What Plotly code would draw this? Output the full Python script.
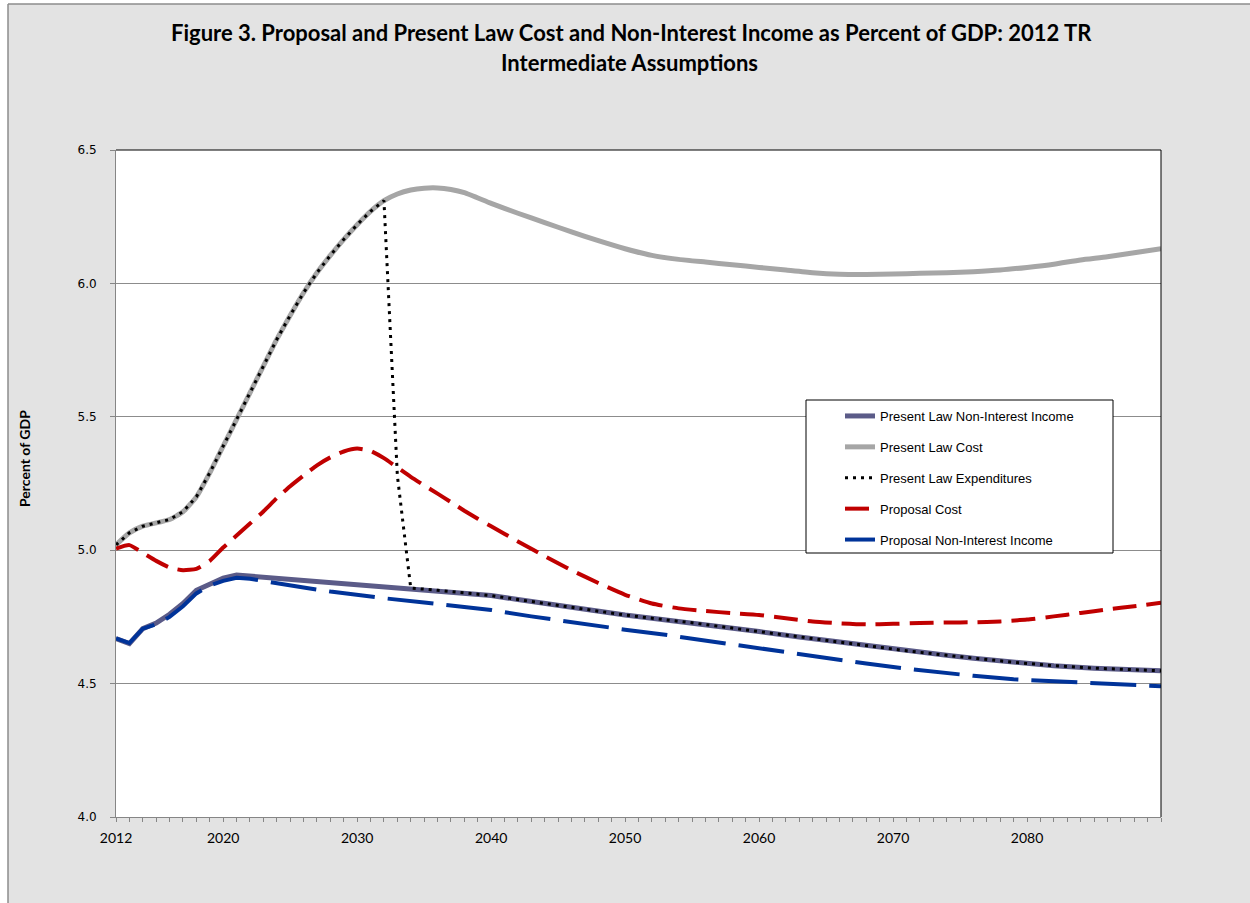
import plotly.graph_objects as go

# ---------------- data ----------------
cost_years = [2012, 2013, 2014, 2016, 2017, 2018, 2019, 2020, 2021, 2022, 2023, 2024, 2025,
              2026, 2027, 2028, 2029, 2030, 2031, 2032, 2033, 2034, 2035, 2036, 2037, 2038,
              2040, 2042, 2044, 2046, 2048, 2050, 2052, 2054, 2056, 2058, 2060, 2062, 2064,
              2066, 2068, 2070, 2072, 2074, 2076, 2078, 2080, 2082, 2084, 2086, 2088, 2090]
present_law_cost = [5.02, 5.065, 5.09, 5.115, 5.144, 5.20, 5.29, 5.39, 5.49, 5.59, 5.69, 5.79, 5.88,
                    5.965, 6.04, 6.105, 6.165, 6.22, 6.27, 6.31, 6.335, 6.35, 6.357, 6.358, 6.352,
                    6.34, 6.30, 6.263, 6.228, 6.193, 6.16, 6.13, 6.105, 6.09, 6.08, 6.07, 6.06, 6.05,
                    6.04, 6.034, 6.033, 6.035, 6.038, 6.04, 6.044, 6.05, 6.06, 6.072, 6.088, 6.10,
                    6.115, 6.13]

pl_income_years = [2012, 2013, 2014, 2015, 2016, 2017, 2018, 2019, 2020, 2021, 2022, 2024, 2026,
                   2028, 2030, 2032, 2034, 2036, 2038, 2040, 2042, 2044, 2046, 2048, 2050, 2052,
                   2055, 2058, 2060, 2063, 2066, 2068, 2071, 2074, 2076, 2079, 2082, 2085, 2088, 2090]
present_law_income = [4.669, 4.65, 4.706, 4.727, 4.76, 4.80, 4.85, 4.875, 4.895, 4.907, 4.903, 4.895,
                      4.886, 4.878, 4.872, 4.866, 4.858, 4.85, 4.84, 4.83, 4.815, 4.80, 4.787, 4.772,
                      4.757, 4.745, 4.728, 4.708, 4.695, 4.675, 4.655, 4.642, 4.623, 4.606, 4.595,
                      4.58, 4.567, 4.558, 4.552, 4.548]

exp_years = [2012, 2013, 2014, 2016, 2017, 2018, 2019, 2020, 2021, 2022, 2023, 2024, 2025, 2026,
             2027, 2028, 2029, 2030, 2031, 2032, 2033, 2034, 2036, 2038, 2040, 2042, 2044, 2046,
             2048, 2050, 2052, 2055, 2058, 2060, 2063, 2066, 2068, 2071, 2074, 2076, 2079, 2082,
             2085, 2088, 2090]
present_law_expenditures = [5.02, 5.065, 5.09, 5.115, 5.144, 5.20, 5.29, 5.39, 5.49, 5.59, 5.69,
                            5.79, 5.88, 5.965, 6.04, 6.105, 6.165, 6.22, 6.27, 6.31, 5.28, 4.858,
                            4.85, 4.84, 4.83, 4.815, 4.80, 4.787, 4.772, 4.757, 4.745, 4.728, 4.708,
                            4.695, 4.675, 4.655, 4.642, 4.623, 4.606, 4.595, 4.58, 4.567, 4.558,
                            4.552, 4.548]

prop_cost_years = [2012, 2013, 2014, 2015, 2016, 2017, 2018, 2019, 2020, 2021, 2022, 2023, 2024,
                   2025, 2026, 2027, 2028, 2029, 2030, 2031, 2032, 2033, 2034, 2035, 2036, 2037,
                   2038, 2039, 2040, 2042, 2044, 2046, 2048, 2050, 2052, 2054, 2056, 2058, 2060,
                   2062, 2064, 2066, 2068, 2070, 2072, 2074, 2076, 2078, 2080, 2082, 2084, 2086,
                   2088, 2090]
proposal_cost = [5.006, 5.019, 4.99, 4.96, 4.935, 4.925, 4.93, 4.96, 5.01, 5.055, 5.10, 5.145, 5.195,
                 5.24, 5.28, 5.318, 5.348, 5.37, 5.381, 5.372, 5.345, 5.31, 5.275, 5.243, 5.212,
                 5.18, 5.148, 5.118, 5.09, 5.033, 4.978, 4.925, 4.877, 4.833, 4.80, 4.782, 4.772,
                 4.764, 4.757, 4.745, 4.733, 4.726, 4.722, 4.724, 4.727, 4.729, 4.73, 4.733, 4.74,
                 4.752, 4.765, 4.778, 4.79, 4.803]

prop_income_years = [2012, 2013, 2014, 2015, 2016, 2017, 2018, 2019, 2020, 2021, 2022, 2024, 2026,
                     2028, 2030, 2032, 2035, 2038, 2040, 2043, 2046, 2048, 2050, 2053, 2056, 2058,
                     2060, 2063, 2066, 2068, 2071, 2074, 2076, 2079, 2082, 2085, 2088, 2090]
proposal_income = [4.669, 4.652, 4.706, 4.722, 4.75, 4.79, 4.838, 4.868, 4.885, 4.897, 4.893, 4.875,
                   4.86, 4.845, 4.831, 4.82, 4.804, 4.787, 4.776, 4.752, 4.73, 4.716, 4.702, 4.683,
                   4.661, 4.647, 4.632, 4.61, 4.589, 4.575, 4.556, 4.539, 4.529, 4.516, 4.508,
                   4.501, 4.495, 4.49]

x_tick_labels = ["2012", "2020", "2030", "2040", "2050", "2060", "2070", "2080"]
y_tick_values = [4.0, 4.5, 5.0, 5.5, 6.0, 6.5]

title_line1 = "Figure 3. Proposal and Present Law Cost and Non-Interest Income as Percent of GDP: 2012 TR"
title_line2 = "Intermediate Assumptions"
y_title = "Percent of GDP"

# ---------------- figure ----------------
fig = go.Figure()

fig.add_trace(go.Scatter(x=pl_income_years, y=present_law_income, mode="lines",
                         name="Present Law Non-Interest Income", legendrank=1, legendgroup="a",
                         line=dict(color="#5B5B88", width=5)))
fig.add_trace(go.Scatter(x=cost_years, y=present_law_cost, mode="lines",
                         name="Present Law Cost", legendrank=2, legendgroup="b",
                         line=dict(color="#A6A6A6", width=5, shape="spline", smoothing=0.5)))
fig.add_trace(go.Scatter(x=prop_cost_years, y=proposal_cost, mode="lines",
                         name="Proposal Cost", legendrank=4, legendgroup="d",
                         line=dict(color="#C00000", width=4, dash="24px,10px",
                                   shape="spline", smoothing=0.5)))
fig.add_trace(go.Scatter(x=prop_income_years, y=proposal_income, mode="lines",
                         name="Proposal Non-Interest Income", legendrank=5, legendgroup="e",
                         line=dict(color="#003399", width=4, dash="46px,13px")))
fig.add_trace(go.Scatter(x=exp_years, y=present_law_expenditures, mode="lines",
                         name="Present Law Expenditures", legendrank=3, legendgroup="c",
                         line=dict(color="#000000", width=3, dash="3px,5px")))

all_years = list(range(2012, 2091))
tick_text = [str(y) if str(y) in x_tick_labels else "" for y in all_years]

# plot-area geometry (px)
L, R, T, B = 116, 89, 150, 86
W, H = 1250, 903
pw, ph = W - L - R, H - T - B


def px_x(px):
    return (px - L) / pw


def px_y(py):
    return (H - B - py) / ph


fig.update_layout(
    width=W, height=H,
    margin=dict(l=L, r=R, t=T, b=B),
    paper_bgcolor="#E3E3E3",
    plot_bgcolor="#FFFFFF",
    showlegend=True,
    legend=dict(x=px_x(840), y=px_y(401), xanchor="left", yanchor="top",
                bgcolor="rgba(0,0,0,0)", borderwidth=0,
                font=dict(family="Liberation Sans, Arial", size=13, color="#000000"),
                tracegroupgap=11, traceorder="grouped"),
    xaxis=dict(range=[2012, 2090], tickmode="array", tickvals=all_years, ticktext=tick_text,
               ticks="outside", ticklen=4, tickcolor="#868686", tickwidth=1,
               showline=True, linecolor="#868686", linewidth=1, showgrid=False, zeroline=False,
               tickangle=0, ticklabelstandoff=4,
               tickfont=dict(family="Lato, Carlito, sans-serif", size=14, color="#000000")),
    yaxis=dict(range=[4.0, 6.5], tickmode="array", tickvals=y_tick_values,
               tickformat=".1f", ticks="outside", ticklen=5, tickcolor="#868686",
               showline=True, linecolor="#868686", linewidth=1,
               showgrid=True, gridcolor="#8C8C8C", gridwidth=1, zeroline=False,
               ticklabelstandoff=11,
               tickfont=dict(family="DejaVu Sans, Verdana", size=12, color="#000000")),
    annotations=[
        dict(text="<b>" + title_line1 + "</b>", xref="paper", yref="paper",
             x=px_x(631), y=px_y(33), xanchor="center", yanchor="middle", showarrow=False,
             font=dict(family="Lato, sans-serif", size=22, color="#000000")),
        dict(text="<b>" + title_line2 + "</b>", xref="paper", yref="paper",
             x=px_x(629), y=px_y(62), xanchor="center", yanchor="middle", showarrow=False,
             font=dict(family="Lato, sans-serif", size=22, color="#000000")),
        dict(text="<b>" + y_title + "</b>", xref="paper", yref="paper",
             x=px_x(25), y=px_y(459), xanchor="center", yanchor="middle", showarrow=False,
             textangle=-90,
             font=dict(family="Lato, sans-serif", size=14, color="#000000")),
    ],
    shapes=[
        # white strips outside the chart frame
        dict(type="rect", xref="paper", yref="paper", x0=px_x(0), x1=px_x(8), y0=px_y(H + 5),
             y1=px_y(-5), fillcolor="#FFFFFF", line=dict(width=0), layer="above"),
        dict(type="rect", xref="paper", yref="paper", x0=px_x(0), x1=px_x(W + 5), y0=px_y(4),
             y1=px_y(-5), fillcolor="#FFFFFF", line=dict(width=0), layer="above"),
        dict(type="line", xref="paper", yref="paper", x0=px_x(8), x1=px_x(8), y0=px_y(H + 5),
             y1=px_y(4), line=dict(color="#8C8C8C", width=1.5)),
        dict(type="line", xref="paper", yref="paper", x0=px_x(8), x1=px_x(W + 5), y0=px_y(4),
             y1=px_y(4), line=dict(color="#8C8C8C", width=1.5)),
        # plot-area top and right borders
        dict(type="line", xref="paper", yref="paper", x0=0, x1=1, y0=1, y1=1,
             line=dict(color="#000000", width=1)),
        dict(type="line", xref="paper", yref="paper", x0=1, x1=1, y0=0, y1=1,
             line=dict(color="#000000", width=1)),
        # legend box
        dict(type="rect", xref="paper", yref="paper", x0=px_x(806), x1=px_x(1113),
             y0=px_y(553), y1=px_y(400), fillcolor="#FFFFFF",
             line=dict(color="#000000", width=1), layer="above"),
    ],
)

fig.write_html("out.html", config={"displayModeBar": False},
               post_script="document.body.style.margin='0px';")
